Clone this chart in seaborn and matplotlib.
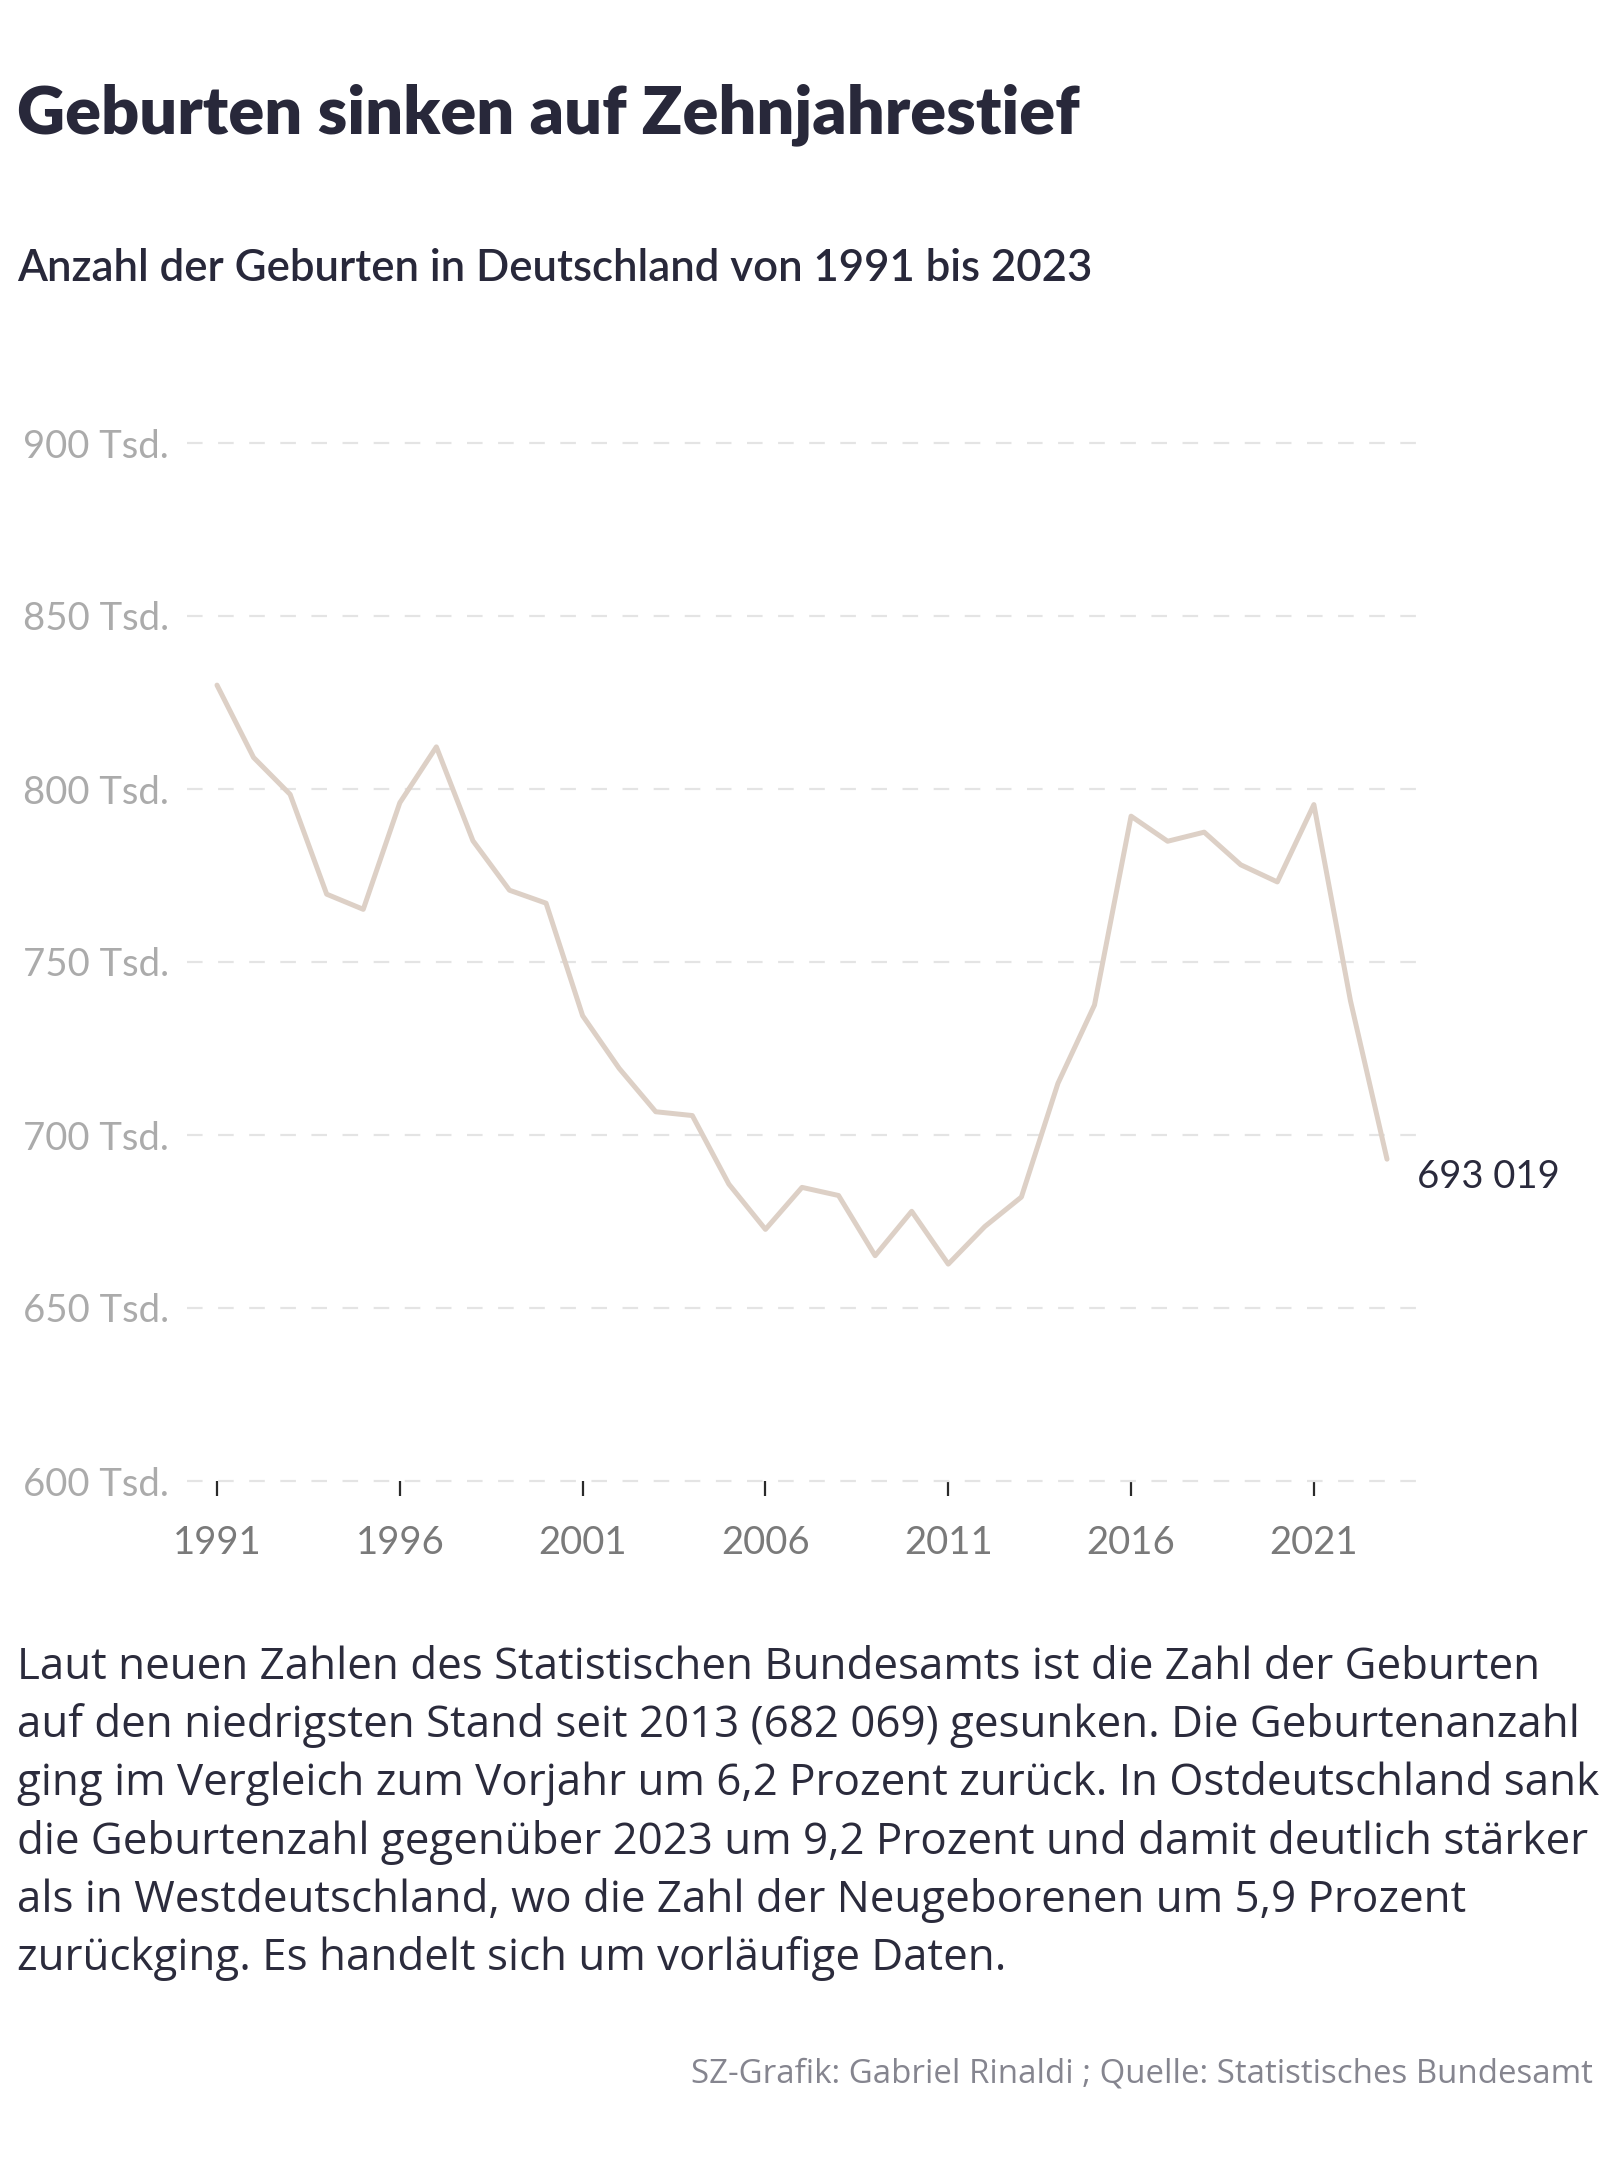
import matplotlib
matplotlib.use("Agg")
import matplotlib.pyplot as plt
import seaborn as sns
import pandas as pd

years = list(range(1991, 2024))
births = [830019, 809114, 798447, 769603, 765221, 796013, 812173, 785034, 770744, 766999,
          734475, 719250, 706721, 705622, 685795, 672724, 684862, 682514, 665126, 677947,
          662685, 673544, 682069, 714927, 737575, 792141, 784901, 787523, 778090, 773144,
          795492, 738819, 693019]
ytick_vals = [600000, 650000, 700000, 750000, 800000, 850000, 900000]
ytick_labels = ["600 Tsd.", "650 Tsd.", "700 Tsd.", "750 Tsd.", "800 Tsd.", "850 Tsd.", "900 Tsd."]
xtick_vals = [1991, 1996, 2001, 2006, 2011, 2016, 2021]
last_label = "693 019"

title = "Geburten sinken auf Zehnjahrestief"
subtitle = "Anzahl der Geburten in Deutschland von 1991 bis 2023"
paragraph = [
    "Laut neuen Zahlen des Statistischen Bundesamts ist die Zahl der Geburten",
    "auf den niedrigsten Stand seit 2013 (682 069) gesunken. Die Geburtenanzahl",
    "ging im Vergleich zum Vorjahr um 6,2 Prozent zurück. In Ostdeutschland sank",
    "die Geburtenzahl gegenüber 2023 um 9,2 Prozent und damit deutlich stärker",
    "als in Westdeutschland, wo die Zahl der Neugeborenen um 5,9 Prozent",
    "zurückging. Es handelt sich um vorläufige Daten.",
]
footer = "SZ-Grafik: Gabriel Rinaldi ; Quelle: Statistisches Bundesamt"

df = pd.DataFrame({"Jahr": years, "Geburten": births})

sns.set_theme(style="white")
plt.rcParams["font.family"] = ["Lato", "DejaVu Sans"]

W, H = 1608, 2172
fig = plt.figure(figsize=(W / 100, H / 100), dpi=100)
fig.patch.set_facecolor("white")

left, right = 187 / W, 1420 / W
bottom, top = 1 - 1481 / H, 1 - 443 / H
ax = fig.add_axes([left, bottom, right - left, top - bottom])

sns.lineplot(data=df, x="Jahr", y="Geburten", ax=ax, color="#ddd0c6", linewidth=3.6,
             solid_capstyle="round", zorder=3)

ax.set_xlim(1991 - 30 / 36.57, 2023 + 33 / 36.57)
ax.set_ylim(600000, 900000)

for v in ytick_vals:
    ax.axhline(v, color="#e4e4e4", linewidth=1.6, linestyle=(0, (7, 7)), zorder=1, clip_on=False)

ax.set_yticks(ytick_vals)
ax.set_yticklabels(ytick_labels)
ax.set_xticks(xtick_vals)
ax.set_xticklabels([str(x) for x in xtick_vals])
ax.tick_params(axis="y", length=0, pad=13, labelsize=27.5, labelcolor="#ababab")
ax.tick_params(axis="x", length=10.5, width=1.6, color="#2a2a2a", direction="out",
               pad=21, labelsize=27.5, labelcolor="#7a7a7a", bottom=True)
for s in ax.spines.values():
    s.set_visible(False)
ax.set_xlabel("")
ax.set_ylabel("")
ax.grid(False)

ax.annotate(last_label, xy=(years[-1], births[-1]), xytext=(30, -18), textcoords="offset pixels",
            ha="left", va="center", fontsize=27.5, color="#2a2a3c")

dark = "#28283a"
fig.text(17 / W, 1 - 133 / H, title, ha="left", va="baseline", fontsize=48,
         fontweight="heavy", color=dark)
fig.text(17 / W, 1 - 281 / H, subtitle, ha="left", va="baseline", fontsize=31.5,
         fontweight="semibold", color=dark)

y0 = 1679
for i, line in enumerate(paragraph):
    fig.text(17 / W, 1 - (y0 + i * 58.2) / H, line, ha="left", va="baseline",
             fontsize=31.6, color="#2b2b3c", family=["Open Sans", "DejaVu Sans"])

fig.text(1593 / W, 1 - 2082 / H, footer, ha="right", va="baseline", fontsize=23.8,
         color="#85858f", family=["Open Sans", "DejaVu Sans"])

fig.savefig("out.png", dpi=100, facecolor="white")
